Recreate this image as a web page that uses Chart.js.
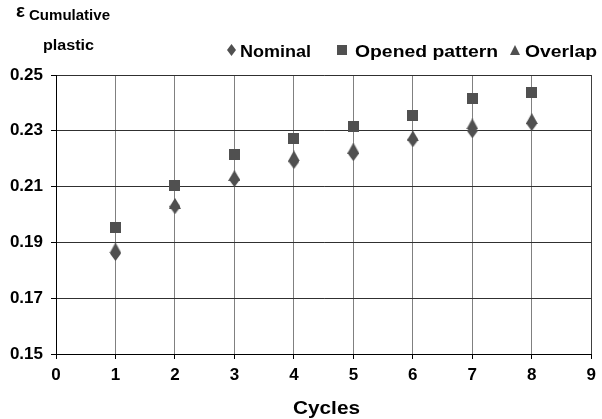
<!DOCTYPE html>
<html>
<head>
<meta charset="utf-8">
<script src="https://cdn.jsdelivr.net/npm/chart.js@4.4.0/dist/chart.umd.min.js"></script>
<style>
  html, body { margin: 0; padding: 0; background: #fff; }
  #wrap { width: 602px; height: 419px; }
</style>
</head>
<body>
<div id="wrap"><canvas id="strainChart" width="602" height="419"></canvas></div>
<script>
// cycle numbers on the x axis
const cycles = [1, 2, 3, 4, 5, 6, 7, 8];

// cumulative plastic strain per cycle
const nominal = [0.1860, 0.2028, 0.2125, 0.2190, 0.2218, 0.2268, 0.2300, 0.2326];
const openedPattern = [0.1954, 0.2103, 0.2214, 0.2274, 0.2314, 0.2356, 0.2416, 0.2436];
const overlap = [0.1880, 0.2040, 0.2140, 0.2210, 0.2238, 0.2282, 0.2325, 0.2344];

// series names shown in the legend
const seriesNames = ["Nominal", "Opened pattern", "Overlap"];

// axis ranges and tick steps
const xTicks = [0, 1, 2, 3, 4, 5, 6, 7, 8, 9];
const yTicks = [0.15, 0.17, 0.19, 0.21, 0.23, 0.25];

const markerColor = "#505050";
const fontFamily = "'Liberation Sans', Arial, sans-serif";

// builds a small canvas holding a marker shape
function makeMarker(shape, w, h) {
  const c = document.createElement("canvas");
  c.width = w;
  c.height = h;
  const g = c.getContext("2d");
  g.fillStyle = markerColor;
  g.beginPath();
  if (shape === "diamond") {
    g.moveTo(w / 2, 0);
    g.lineTo(w, h / 2);
    g.lineTo(w / 2, h);
    g.lineTo(0, h / 2);
  } else if (shape === "triangle") {
    g.moveTo(w / 2, 0);
    g.lineTo(w, h);
    g.lineTo(0, h);
  } else {
    g.rect(0, 0, w, h);
  }
  g.closePath();
  g.fill();
  return c;
}

const markers = [
  makeMarker("diamond", 11, 15),
  makeMarker("square", 11, 11),
  makeMarker("triangle", 12, 11)
];

const legendMarkers = [
  makeMarker("diamond", 9, 12),
  makeMarker("square", 10, 10),
  makeMarker("triangle", 10, 10)
];

function toPoints(values) {
  return values.map((v, i) => ({ x: cycles[i], y: v }));
}

// draws bold text squeezed or stretched to a target width
function fitText(ctx, text, left, baseline, size, width) {
  ctx.save();
  ctx.font = `bold ${size}px ${fontFamily}`;
  ctx.fillStyle = "#000";
  ctx.textBaseline = "alphabetic";
  ctx.textAlign = "left";
  const natural = ctx.measureText(text).width;
  ctx.translate(left, baseline);
  ctx.scale(width / natural, 1);
  ctx.fillText(text, 0, 0);
  ctx.restore();
}

// legend, axis titles drawn on top of the chart
const labelsPlugin = {
  id: "labels",
  afterDraw(chart) {
    const ctx = chart.ctx;

    // y axis title
    fitText(ctx, "\u03b5", 16, 17, 19, 9);
    fitText(ctx, "Cumulative", 29, 20, 14, 81);
    fitText(ctx, "plastic", 43, 50, 14, 51);

    // x axis title
    fitText(ctx, "Cycles", 293, 414, 19, 67);

    // legend row
    const items = [
      { cx: 231, left: 240, width: 71 },
      { cx: 342, left: 355, width: 143 },
      { cx: 515, left: 525, width: 72 }
    ];
    items.forEach((it, i) => {
      const m = legendMarkers[i];
      ctx.drawImage(m, Math.round(it.cx - m.width / 2), Math.round(50 - m.height / 2));
      fitText(ctx, seriesNames[i], it.left, 56.5, 16, it.width);
    });
  }
};

new Chart(document.getElementById("strainChart"), {
  type: "scatter",
  data: {
    datasets: [
      { label: seriesNames[0], data: toPoints(nominal), pointStyle: markers[0], pointRadius: 6 },
      { label: seriesNames[1], data: toPoints(openedPattern), pointStyle: markers[1], pointRadius: 6 },
      { label: seriesNames[2], data: toPoints(overlap), pointStyle: markers[2], pointRadius: 6 }
    ]
  },
  options: {
    responsive: false,
    animation: false,
    events: [],
    layout: {
      padding: { top: 75, right: 6, bottom: 0, left: 0 }
    },
    plugins: {
      legend: { display: false },
      tooltip: { enabled: false }
    },
    scales: {
      x: {
        type: "linear",
        min: xTicks[0],
        max: xTicks[xTicks.length - 1],
        afterBuildTicks: scale => { scale.ticks = xTicks.map(v => ({ value: v })); },
        afterFit: scale => { scale.height = 65; },
        border: { color: "#000", width: 1 },
        grid: {
          color: ctx => (ctx.tick && ctx.tick.value === 9 ? "#404040" : "#808080"),
          lineWidth: 1,
          tickLength: 5,
          tickColor: "#000"
        },
        ticks: {
          color: "#000",
          padding: 6,
          font: { family: fontFamily, size: 17, weight: "bold" }
        }
      },
      y: {
        min: yTicks[0],
        max: yTicks[yTicks.length - 1],
        afterBuildTicks: scale => { scale.ticks = yTicks.map(v => ({ value: v })); },
        afterFit: scale => { scale.width = 56; },
        border: { color: "#000", width: 1 },
        grid: {
          color: "#303030",
          lineWidth: 1,
          tickLength: 5,
          tickColor: "#000"
        },
        ticks: {
          color: "#000",
          padding: 8,
          font: { family: fontFamily, size: 17, weight: "bold" },
          callback: v => v.toFixed(2)
        }
      }
    }
  },
  plugins: [labelsPlugin]
});
</script>
</body>
</html>
